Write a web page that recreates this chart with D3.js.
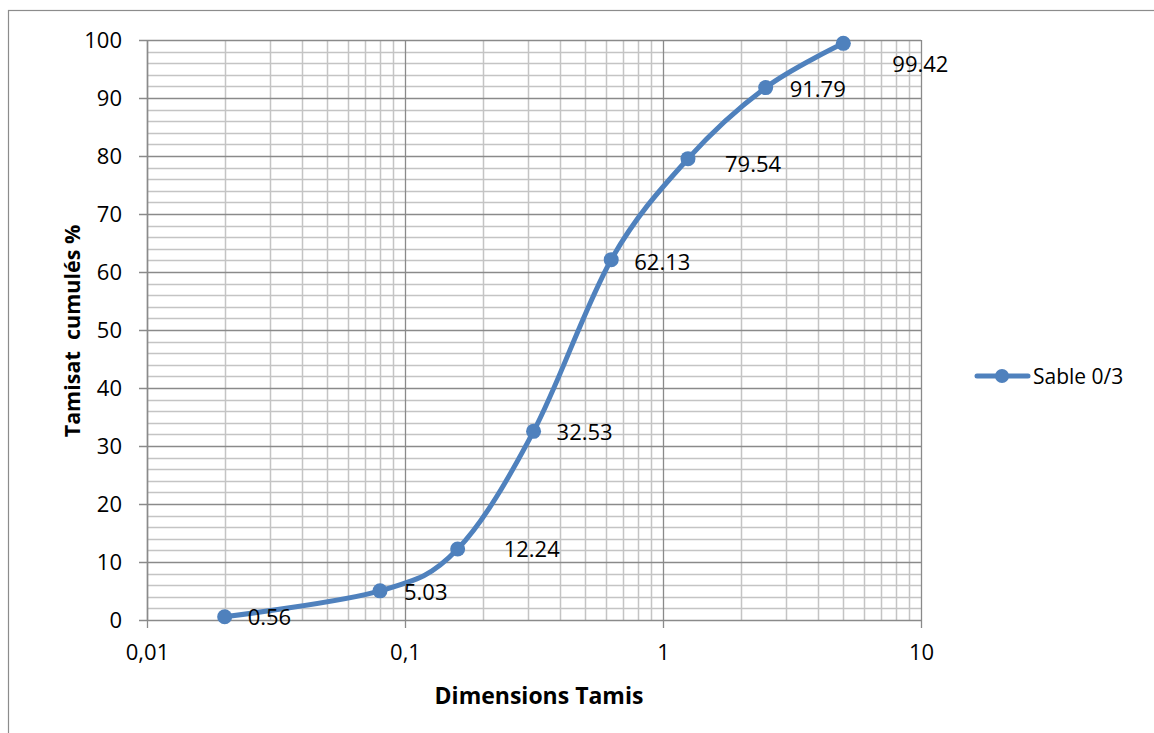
<!DOCTYPE html>
<html><head><meta charset="utf-8">
<script src="https://cdn.jsdelivr.net/npm/d3@7"></script>
<style>body{margin:0;background:#fff}svg{display:block}text{font-family:"Open Sans",sans-serif}</style>
</head><body>
<svg id="c" width="1154" height="733"></svg>
<script>
const seriesName = "Sable 0/3";
const sieveSizes = [0.02, 0.08, 0.16, 0.315, 0.63, 1.25, 2.5, 5];
const passingPct = [0.56, 5.03, 12.24, 32.53, 62.13, 79.54, 91.79, 99.42];
const valueLabels = ["0.56", "5.03", "12.24", "32.53", "62.13", "79.54", "91.79", "99.42"];
const xTickValues = [0.01, 0.1, 1, 10];
const xTickLabels = ["0,01", "0,1", "1", "10"];
const yTickValues = [0, 10, 20, 30, 40, 50, 60, 70, 80, 90, 100];
// label offsets (px) relative to marker
const labelDx = [23, 24, 46, 23, 23, 37, 24, 49];
const labelDy = [0, 1, 0, 1, 2, 5, 1, 21];

const FONT = "'Open Sans',sans-serif";
const svg = d3.select("#c");
const L = 147, R = 921, T = 40, B = 620;
const x = d3.scaleLog().domain([0.01, 10]).range([L, R]);
const y = d3.scaleLinear().domain([0, 100]).range([B, T]);
const blue = "#4F81BD";

svg.append("rect").attr("x", 8.5).attr("y", 10.5).attr("width", 1170).attr("height", 760)
  .attr("fill", "#fff").attr("stroke", "#8c8c8c").attr("stroke-width", 1.2);

const g = svg.append("g");
// minor grids
const minorX = [];
[0.01, 0.1, 1].forEach(d => { for (let k = 2; k <= 9; k++) minorX.push(d * k); });
const minorY = d3.range(0, 101, 2).filter(v => v % 10 !== 0);
g.selectAll(".mx").data(minorX).join("line")
  .attr("x1", d => Math.round(x(d)) + 0.5).attr("x2", d => Math.round(x(d)) + 0.5)
  .attr("y1", T).attr("y2", B).attr("stroke", "#c4c4c4").attr("stroke-width", 1.5);
g.selectAll(".my").data(minorY).join("line")
  .attr("y1", d => Math.round(y(d)) + 0.5).attr("y2", d => Math.round(y(d)) + 0.5)
  .attr("x1", L).attr("x2", R).attr("stroke", "#c4c4c4").attr("stroke-width", 1.5);
// major grids
g.selectAll(".My").data(yTickValues).join("line")
  .attr("y1", d => Math.round(y(d)) + 0.5).attr("y2", d => Math.round(y(d)) + 0.5)
  .attr("x1", L - 8).attr("x2", R).attr("stroke", "#8a8a8a").attr("stroke-width", 1.3);
g.selectAll(".Mx").data(xTickValues).join("line")
  .attr("x1", d => Math.round(x(d)) + 0.5).attr("x2", d => Math.round(x(d)) + 0.5)
  .attr("y1", T).attr("y2", B + 8).attr("stroke", "#8a8a8a").attr("stroke-width", 1.3);

// axes via d3 for labels
const yAxis = d3.axisLeft(y).tickValues(yTickValues).tickSize(0).tickPadding(25);
const ya = svg.append("g").attr("transform", `translate(${L},0)`).call(yAxis);
ya.select(".domain").remove();
ya.selectAll("text").attr("font-size", 22).attr("fill", "#000").attr("font-family", FONT);

const xAxis = d3.axisBottom(x).tickValues(xTickValues).tickFormat((d, i) => xTickLabels[i]).tickSize(0).tickPadding(24);
const xa = svg.append("g").attr("transform", `translate(0,${B})`).call(xAxis);
xa.select(".domain").remove();
xa.selectAll("text").attr("font-size", 22).attr("fill", "#000").attr("font-family", FONT);

// axis line
svg.append("line").attr("x1", L + 0.5).attr("x2", L + 0.5).attr("y1", T).attr("y2", B).attr("stroke", "#8a8a8a").attr("stroke-width", 1.5);

// curve
const pts = sieveSizes.map((s, i) => [x(s), y(passingPct[i])]);
svg.append("path").attr("d", d3.line().curve(d3.curveCatmullRom.alpha(0))(pts))
  .attr("fill", "none").attr("stroke", blue).attr("stroke-width", 5).attr("stroke-linecap", "round");
svg.selectAll(".pt").data(pts).join("circle").attr("cx", d => d[0]).attr("cy", d => d[1]).attr("r", 7.5).attr("fill", blue);

svg.selectAll(".lbl").data(pts).join("text")
  .attr("x", (d, i) => d[0] + labelDx[i]).attr("y", (d, i) => d[1] + labelDy[i])
  .attr("dy", "0.36em").attr("font-size", 22).attr("fill", "#000").text((d, i) => valueLabels[i]);

// axis titles
svg.append("text").attr("x", 539).attr("y", 704).attr("text-anchor", "middle")
  .attr("font-size", 23).attr("font-weight", "bold").text("Dimensions Tamis");
svg.append("text").attr("transform", "translate(80,331) rotate(-90)").attr("text-anchor", "middle")
  .attr("font-size", 21.5).attr("font-weight", "bold").attr("xml:space", "preserve").style("white-space", "pre").text("Tamisat  cumulés %");

// legend
const lg = svg.append("g");
lg.append("line").attr("x1", 977).attr("x2", 1028).attr("y1", 376).attr("y2", 376).attr("stroke", blue).attr("stroke-width", 5).attr("stroke-linecap", "round");
lg.append("circle").attr("cx", 1002).attr("cy", 376).attr("r", 7).attr("fill", blue);
lg.append("text").attr("x", 1033).attr("y", 376).attr("dy", "0.36em").attr("font-size", 21).text(seriesName);
</script>
</body></html>
